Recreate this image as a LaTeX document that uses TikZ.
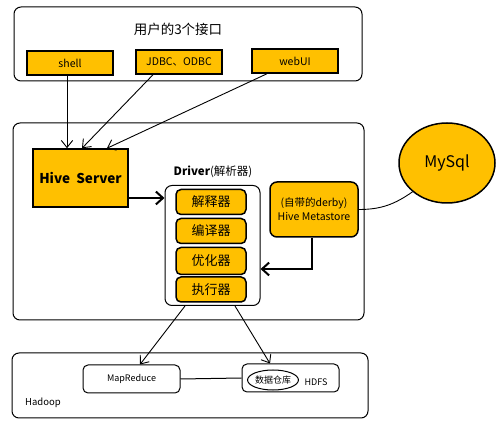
\documentclass[tikz,border=0pt]{standalone}
\usepackage{fontspec}
\setmainfont{Noto Sans CJK SC}
\usetikzlibrary{positioning,arrows.meta,shapes.geometric}
\definecolor{hiveyellow}{RGB}{255,192,0}

\begin{document}
\begin{tikzpicture}[x=1pt,y=-1pt,
  grp/.style={draw,rounded corners=7pt,line width=1pt,inner sep=0pt},
  ybox/.style={draw,fill=hiveyellow,line width=1.5pt,inner sep=0pt,
               minimum width=86pt,minimum height=24pt,font=\fontsize{10.5}{12}\selectfont},
  stage/.style={ybox,rounded corners=5pt,minimum width=70pt,minimum height=25pt,
                font=\fontsize{13}{15}\selectfont},
  hbox/.style={draw,rounded corners=5pt,line width=1pt,inner sep=0pt,
               minimum width=97pt,minimum height=28pt,font=\fontsize{9}{11}\selectfont},
  ar/.style={-{Straight Barb[length=2.5mm,width=4mm]},line width=0.9pt},
  thk/.style={-{Straight Barb[length=2.5mm,width=4.5mm]},line width=2pt}
]
\useasboundingbox (0,0) rectangle (504,422);

% users
\node[grp,minimum width=348pt,minimum height=74pt] (users) at (188,44) {};
\node[font=\fontsize{13.5}{15}\selectfont] (usertitle) at (178,29) {用户的3个接口};
\node[ybox] (shell) at (70,63) {shell};
\node[ybox] (jdbc) at (179,62) {JDBC、ODBC};
\node[ybox] (webui) at (295,61) {webUI};

% hive
\node[grp,minimum width=351pt,minimum height=197pt] (hive) at (188.5,221.5) {};
\node[ybox,minimum width=95pt,minimum height=58pt,
      font=\fontsize{13.5}{15}\selectfont\bfseries] (hiveserver) at (80.5,178) {Hive\ \ Server};
\node[font=\fontsize{11.5}{13}\selectfont] (drivertitle) at (213,172) {\textbf{Driver}(解析器)};
\node[draw,rounded corners=7pt,line width=1pt,fill=white,
      minimum width=95pt,minimum height=120pt] (driver) at (212.5,245.5) {};
\node[stage] (jieshi) at (211,202) {解释器};
\node[stage] (bianyi) at (211,231) {编译器};
\node[stage,minimum height=27pt] (youhua) at (211,261) {优化器};
\node[stage] (zhixing) at (211,289.5) {执行器};
\node[ybox,rounded corners=7pt,minimum width=88pt,minimum height=55pt,align=center,
      font=\fontsize{10.5}{14}\selectfont] (meta) at (314,209.5) {(自带的derby)\\Hive Metastore};
\node[ellipse,draw,fill=hiveyellow,line width=1.5pt,minimum width=96pt,minimum height=80pt,
      inner sep=0pt,font=\fontsize{16}{18}\selectfont] (mysql) at (447,163) {MySql};

% hadoop
\node[grp,minimum width=356pt,minimum height=65pt] (hadoop) at (190,385.5) {};
\node[font=\fontsize{9.5}{11}\selectfont] (hadooplbl) at (43,403) {Hadoop};
\node[hbox] (mr) at (131.5,379) {MapReduce};
\node[hbox] (hdfs) at (290.5,378) {};
\node[ellipse,draw,line width=1pt,minimum width=48pt,minimum height=20pt,inner sep=0pt,
      font=\fontsize{9}{11}\selectfont] (dw) at (273,380) {数据仓库};
\node[font=\fontsize{9}{11}\selectfont] (hdfslbl) at (316,382) {HDFS};

\draw[ar] ([xshift=-3pt]shell.south) -- ([xshift=-13.5pt]hiveserver.north);
\draw[ar] ([xshift=-26pt]jdbc.south) -- ([xshift=1.5pt]hiveserver.north);
\draw[ar] ([xshift=-28pt]webui.south) -- ([xshift=26.5pt]hiveserver.north);
\draw[thk] ([yshift=-20pt]hiveserver.east) -- ([yshift=-20pt]hiveserver.east -| driver.west);
\draw[thk] ([xshift=-2pt]meta.south) |- ([yshift=-23.5pt]driver.east);
\draw[line width=0.9pt] (meta.east) to[out=0,in=215] (mysql.south west);
\draw[ar] ([xshift=-27.5pt]driver.south) -- ([xshift=8.5pt]mr.north);
\draw[ar] ([xshift=22.5pt]driver.south) -- ([xshift=-20.5pt]hdfs.north);
\draw[line width=1pt] (mr.east) -- (hdfs.west);
\end{tikzpicture}
\end{document}
